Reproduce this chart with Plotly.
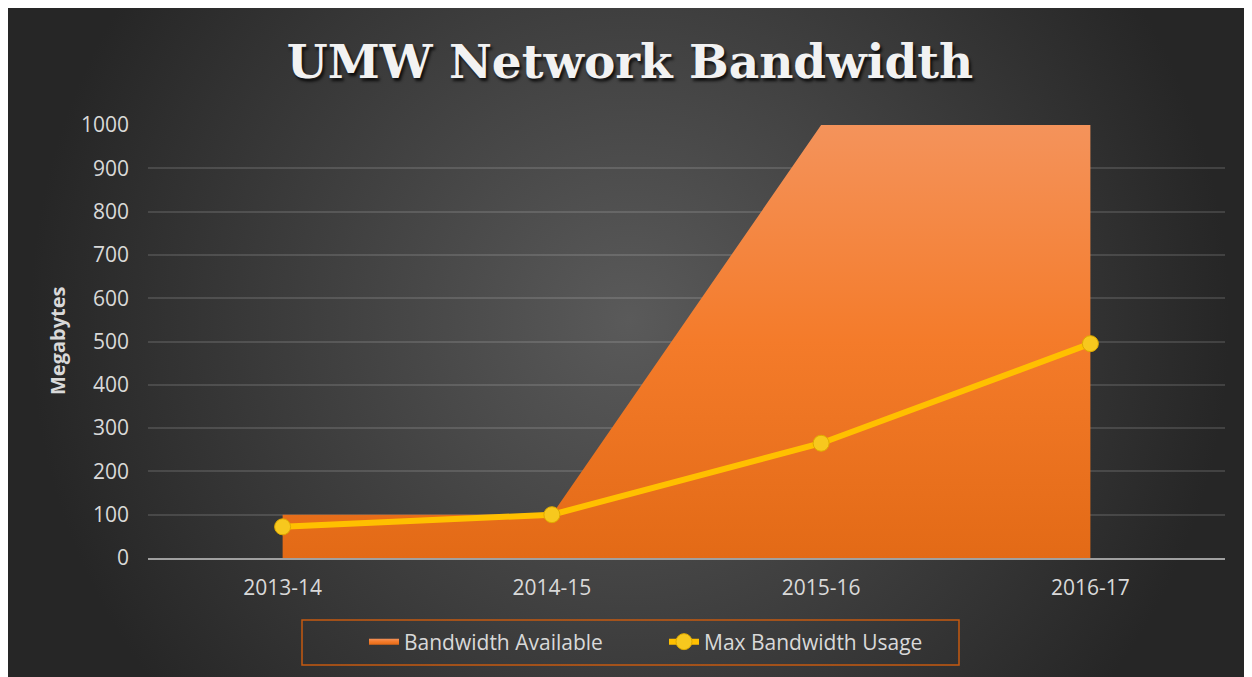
import base64
import plotly.graph_objects as go

# ---- data ----
categories = ["2013-14", "2014-15", "2015-16", "2016-17"]
bandwidth_available = [100, 100, 1000, 1000]
max_bandwidth_usage = [72, 100, 265, 495]
y_ticks = [0, 100, 200, 300, 400, 500, 600, 700, 800, 900, 1000]

W, H = 1252, 677
OFF = 8  # page body margin
L, R, T, B = 140, 35, 117, 127
PW, PH = W - L - R, H - T - B


def px_x(p):  # page pixel -> paper x
    return (p - OFF - L) / PW


def px_y(p):  # page pixel -> paper y
    return (H - B - (p - OFF)) / PH


# radial-gradient background as SVG (covers whole paper)
svg = f'''<svg xmlns="http://www.w3.org/2000/svg" width="{W}" height="{H}" viewBox="0 0 {W} {H}" preserveAspectRatio="none">
<defs><radialGradient id="g" gradientUnits="userSpaceOnUse" cx="622" cy="312" r="600">
<stop offset="0" stop-color="#5a5a5a"/><stop offset="1" stop-color="#262626"/></radialGradient></defs>
<rect x="0" y="0" width="{W}" height="{H}" fill="url(#g)"/></svg>'''
bg_src = "data:image/svg+xml;base64," + base64.b64encode(svg.encode()).decode()

fig = go.Figure()

fig.add_trace(go.Scatter(
    x=categories, y=bandwidth_available, name="Bandwidth Available",
    mode="none", fill="tozeroy",
    fillgradient=dict(type="vertical", start=0, stop=1000,
                      colorscale=[[0, "#E36A16"], [0.5, "#F47B2A"], [1, "#F4935B"]]),
    hoverinfo="skip",
))

fig.add_trace(go.Scatter(
    x=categories, y=max_bandwidth_usage, name="Max Bandwidth Usage",
    mode="lines+markers",
    line=dict(color="#FFC000", width=6),
    marker=dict(size=16, color="#F7C81E", line=dict(color="#E0AA00", width=1)),
))

fig.update_layout(
    width=W, height=H,
    margin=dict(l=L, r=R, t=T, b=B),
    paper_bgcolor="#262626",
    plot_bgcolor="rgba(0,0,0,0)",
    showlegend=True,
    title=dict(
        text="UMW Network Bandwidth",
        font=dict(family="DejaVu Serif", size=47, color="#F2F2F2", weight="bold",
                  shadow="2px 3px 3px rgba(0,0,0,0.8)"),
        xref="paper", x=px_x(630), xanchor="center",
        yref="container", y=1 - (62 - OFF) / H, yanchor="middle",
    ),
    xaxis=dict(
        type="category", range=[-0.5, 3.5],
        showgrid=False, zeroline=False,
        showline=True, linecolor="#A0A0A0", linewidth=2,
        ticks="", ticklabelstandoff=10,
        tickfont=dict(family="Open Sans", size=21, color="#D9D9D9"),
    ),
    yaxis=dict(
        range=[0, 1000], tickvals=y_ticks,
        showgrid=True, gridcolor="rgba(255,255,255,0.13)", gridwidth=1.5,
        zeroline=False, showline=False,
        ticks="", ticklabelstandoff=18,
        tickfont=dict(family="Open Sans", size=21, color="#D9D9D9"),
    ),
    legend=dict(
        orientation="h",
        x=px_x(364), xanchor="left",
        y=px_y(642), yanchor="middle",
        bgcolor="rgba(0,0,0,0)", borderwidth=0,
        entrywidth=255, entrywidthmode="pixels",
        font=dict(family="Open Sans", size=21, color="#D9D9D9"),
    ),
    images=[dict(
        source=bg_src, xref="paper", yref="paper",
        x=-L / PW, y=1 + T / PH, sizex=W / PW, sizey=H / PH,
        xanchor="left", yanchor="top", sizing="stretch", layer="below",
    )],
    shapes=[dict(
        type="rect", xref="paper", yref="paper",
        x0=px_x(302), x1=px_x(959), y0=px_y(665), y1=px_y(620),
        line=dict(color="#C55A11", width=1.5), fillcolor="rgba(0,0,0,0)",
    )],
    annotations=[dict(
        text="Megabytes", textangle=-90, showarrow=False,
        xref="paper", yref="paper", x=px_x(57), y=px_y(341),
        xanchor="center", yanchor="middle",
        font=dict(family="Open Sans", size=20, color="#D9D9D9", weight="bold"),
    )],
)

fig.write_html("out.html")
